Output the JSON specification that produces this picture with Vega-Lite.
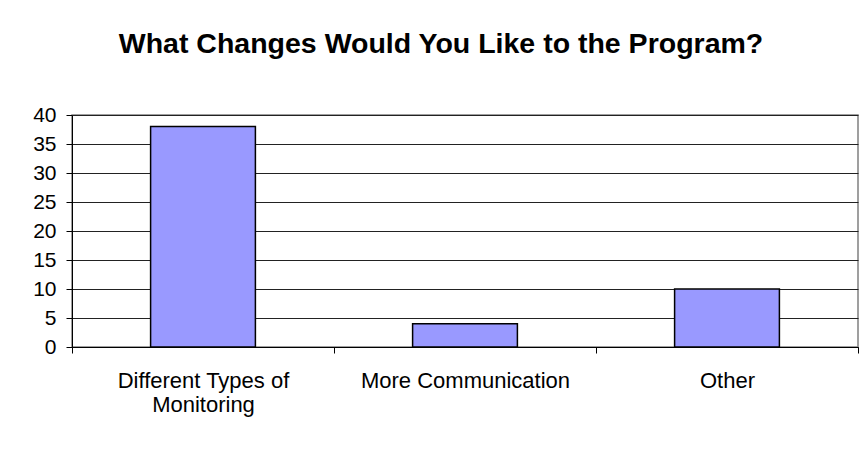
{
  "$schema": "https://vega.github.io/schema/vega-lite/v6.json",
  "width": 786,
  "height": 232,
  "autosize": {"type": "none"},
  "padding": {"left": 72, "top": 115, "right": 6, "bottom": 103},
  "background": "white",
  "title": {
    "text": "What Changes Would You Like to the Program?",
    "font": "Liberation Sans",
    "fontSize": 28.5,
    "fontWeight": "bold",
    "color": "black",
    "anchor": "middle",
    "frame": "group",
    "baseline": "alphabetic",
    "dx": -24,
    "offset": 23
  },
  "data": {
    "values": [
      {"change": "Different Types of Monitoring", "count": 38},
      {"change": "More Communication", "count": 4},
      {"change": "Other", "count": 10}
    ]
  },
  "mark": {"type": "bar", "width": {"band": 0.4}, "fill": "#9999FF", "stroke": "black", "strokeWidth": 1.5},
  "encoding": {
    "x": {
      "field": "change",
      "type": "nominal",
      "sort": null,
      "scale": {"paddingInner": 0, "paddingOuter": 0},
      "axis": {
        "title": null,
        "labelAngle": 0,
        "labelFont": "Liberation Sans",
        "labelFontSize": 22,
        "labelColor": "black",
        "labelPadding": 17,
        "labelLineHeight": 24,
        "labelBaseline": "top",
        "labelLimit": 0,
        "labelExpr": "datum.value == 'Different Types of Monitoring' ? ['Different Types of', 'Monitoring'] : datum.value",
        "tickBand": "extent",
        "tickSize": 6,
        "tickColor": "black",
        "domainColor": "black",
        "grid": false
      }
    },
    "y": {
      "field": "count",
      "type": "quantitative",
      "scale": {"domain": [0, 40], "nice": false},
      "axis": {
        "title": null,
        "values": [0, 5, 10, 15, 20, 25, 30, 35, 40],
        "labelFont": "Liberation Sans",
        "labelFontSize": 21,
        "labelColor": "black",
        "labelPadding": 10,
        "tickSize": 6,
        "tickColor": "black",
        "domainColor": "black",
        "grid": true,
        "gridColor": "#222222",
        "gridWidth": 1
      }
    }
  },
  "config": {
    "view": {"stroke": "#808080", "strokeWidth": 1.5}
  }
}
